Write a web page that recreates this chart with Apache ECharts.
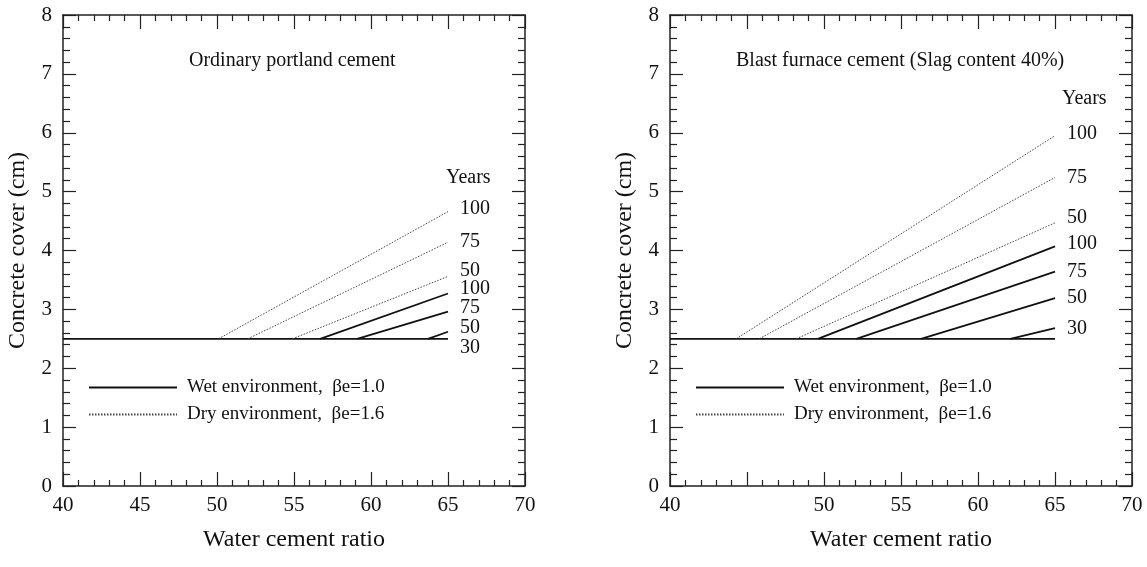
<!DOCTYPE html>
<html>
<head>
<meta charset="utf-8">
<script src="https://cdn.jsdelivr.net/npm/echarts@6/dist/echarts.min.js"></script>
<style>
  html, body { margin: 0; padding: 0; background: #fff; }
  #chart { width: 1147px; height: 567px; }
</style>
</head>
<body>
<div id="chart"></div>
<script>
// water cement ratio where every line ends, and the base cover
const wcFrom = 40;
const wcTo = 65;
const baseCover = 2.5;

// Ordinary portland cement
const opcWetYears = [100, 75, 50];
const opcWetStart = [56.7, 59.1, 63.7];
const opcWetEnd = [3.27, 2.96, 2.62];
const opcDryYears = [100, 75, 50];
const opcDryStart = [50.1, 52.0, 54.9];
const opcDryEnd = [4.66, 4.14, 3.56];

// Blast furnace cement (slag 40%)
const bfcWetYears = [100, 75, 50, 30];
const bfcWetStart = [49.6, 52.1, 56.3, 62.1];
const bfcWetEnd = [4.07, 3.64, 3.19, 2.68];
const bfcDryYears = [100, 75, 50];
const bfcDryStart = [44.3, 45.8, 48.2];
const bfcDryEnd = [5.95, 5.24, 4.47];

const xTicks = [40, 45, 50, 55, 60, 65, 70];
const xTicksRight = [40, 50, 55, 60, 65, 70];

const WET = 'Wet environment,  βe=1.0';
const DRY = 'Dry environment,  βe=1.6';
const FONT = '"Liberation Serif", "Times New Roman", serif';

// vertical nudges of the year labels so they do not overlap
const opcWetDy = [-5, -4, -4];
const opcDryDy = [-3, -1, -6];
const bfcWetDy = [-3, 0, 0, 1];
const bfcDryDy = [-2, 0, -5];

function lineSeries(name, idx, pts, label, dy, dotted) {
  return {
    name: name,
    type: 'line',
    xAxisIndex: idx * 2,
    yAxisIndex: idx * 2,
    data: pts,
    symbol: 'none',
    silent: true,
    color: '#111',
    lineStyle: dotted
      ? { color: '#444', width: 1, type: [1.5, 1.5] }
      : { color: '#111', width: 1.8 },
    endLabel: label == null ? { show: false } : {
      show: true,
      formatter: String(label),
      distance: 12,
      offset: [0, dy],
      color: '#111',
      fontFamily: FONT,
      fontSize: 20
    }
  };
}

function group(idx, years, starts, ends, dys, dotted, name) {
  return years.map((y, i) => lineSeries(name, idx, [[starts[i], baseCover], [wcTo, ends[i]]], y, dys[i], dotted));
}

function axisPair(gridIndex, labels) {
  const common = {
    type: 'value', gridIndex: gridIndex,
    splitLine: { show: false }, minorSplitLine: { show: false },
    axisLine: { show: true, onZero: false, lineStyle: { color: '#222', width: 1.5 } }
  };
  const x = Object.assign({}, common, {
    min: 40, max: 70, interval: 5,
    axisTick: { inside: true, length: 14, lineStyle: { color: '#222', width: 1.2 } },
    minorTick: { show: true, splitNumber: 5, length: 6, lineStyle: { color: '#222', width: 1.2 } }
  });
  const y = Object.assign({}, common, {
    min: 0, max: 8, interval: 1,
    axisTick: { inside: true, length: 13, lineStyle: { color: '#222', width: 1.2 } },
    minorTick: { show: true, splitNumber: 5, length: 7, lineStyle: { color: '#222', width: 1.2 } }
  });
  const xb = Object.assign({}, x, {
    position: 'bottom',
    name: 'Water cement ratio', nameLocation: 'middle', nameGap: 42,
    nameTextStyle: { fontFamily: FONT, fontSize: 24, color: '#111' },
    axisLabel: {
      fontFamily: FONT, fontSize: 21, color: '#111', margin: 9,
      formatter: v => labels.indexOf(v) >= 0 ? String(v) : ''
    }
  });
  const xt = Object.assign({}, x, { position: 'top', axisLabel: { show: false } });
  const yl = Object.assign({}, y, {
    position: 'left',
    name: 'Concrete cover (cm)', nameLocation: 'middle', nameGap: 33,
    nameTextStyle: { fontFamily: FONT, fontSize: 24, color: '#111' },
    axisLabel: { fontFamily: FONT, fontSize: 21, color: '#111', margin: 11 }
  });
  const yr = Object.assign({}, y, { position: 'right', axisLabel: { show: false } });
  return { x: [xb, xt], y: [yl, yr] };
}

const a0 = axisPair(0, xTicks);
const a1 = axisPair(1, xTicksRight);

const series = [
  lineSeries(WET, 0, [[wcFrom, baseCover], [wcTo, baseCover]], 30, 9, false),
  ...group(0, opcWetYears, opcWetStart, opcWetEnd, opcWetDy, false, WET),
  ...group(0, opcDryYears, opcDryStart, opcDryEnd, opcDryDy, true, DRY),
  lineSeries(WET, 1, [[wcFrom, baseCover], [wcTo, baseCover]], null, 0, false),
  ...group(1, bfcWetYears, bfcWetStart, bfcWetEnd, bfcWetDy, false, WET),
  ...group(1, bfcDryYears, bfcDryStart, bfcDryEnd, bfcDryDy, true, DRY)
];

function legendAt(left) {
  return {
    left: left, top: 373, orient: 'vertical',
    data: [WET, DRY],
    itemWidth: 88, itemHeight: 14, itemGap: 8,
    selectedMode: false,
    itemStyle: { opacity: 0 },
    textStyle: { fontFamily: FONT, fontSize: 19, color: '#111', padding: [0, 0, 0, 5] }
  };
}

const chart = echarts.init(document.getElementById('chart'));
chart.setOption({
  backgroundColor: '#fff',
  animation: false,
  title: [
    { text: 'Ordinary portland cement', left: 184, top: 46,
      textStyle: { fontFamily: FONT, fontSize: 20, fontWeight: 'normal', color: '#111' } },
    { text: 'Blast furnace cement (Slag content 40%)', left: 731, top: 46,
      textStyle: { fontFamily: FONT, fontSize: 20, fontWeight: 'normal', color: '#111' } }
  ],
  legend: [legendAt(83), legendAt(690)],
  grid: [
    { left: 63, right: 622, top: 15, bottom: 81 },
    { left: 670, right: 15, top: 15, bottom: 81 }
  ],
  xAxis: [...a0.x, ...a1.x],
  yAxis: [...a0.y, ...a1.y],
  graphic: [
    { type: 'text', left: 446, top: 168, style: { text: 'Years', font: '20px ' + FONT, fill: '#111' } },
    { type: 'text', left: 1062, top: 89, style: { text: 'Years', font: '20px ' + FONT, fill: '#111' } }
  ],
  series: series
});
</script>
</body>
</html>
